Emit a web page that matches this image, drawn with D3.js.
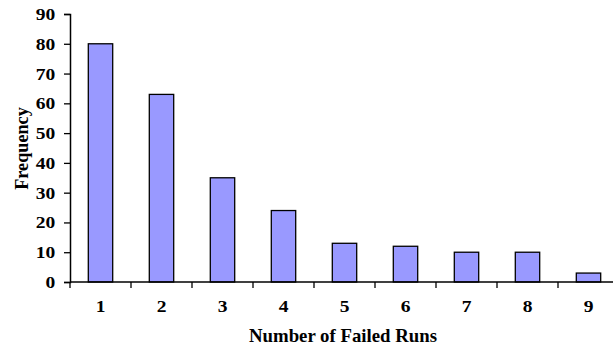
<!DOCTYPE html>
<html><head><meta charset="utf-8">
<script src="https://cdn.jsdelivr.net/npm/d3@7"></script>
<style>body{margin:0;background:#fff}svg{display:block}text{font-family:"Liberation Serif","Times New Roman",serif;font-weight:bold;fill:#000}</style>
</head><body>
<svg id="c" width="613" height="347"></svg>
<script>
const categories = ["1","2","3","4","5","6","7","8","9"];
const frequencies = [80, 63, 35, 24, 13, 12, 10, 10, 3];
const yTicks = [0,10,20,30,40,50,60,70,80,90];

(function(){
const svg = d3.select("#c");
const mL = 70, mR = 619, mT = 14, mB = 282;
const x = d3.scaleBand().domain(categories).range([mL, mR]).paddingInner(0.6).paddingOuter(0.3);
const y = d3.scaleLinear().domain([0, 90]).range([mB, mT]);

svg.selectAll("rect.bar").data(categories).enter().append("rect")
  .attr("class","bar")
  .attr("x", d => x(d))
  .attr("width", x.bandwidth())
  .attr("y", (d,i) => y(frequencies[i]))
  .attr("height", (d,i) => y(0) - y(frequencies[i]))
  .attr("fill", "#9999ff").attr("stroke", "#000").attr("stroke-width", 1.3);

const ya = svg.append("g").attr("transform", `translate(${mL},0)`)
  .call(d3.axisLeft(y).tickValues(yTicks).tickSize(6).tickPadding(6).tickFormat(d3.format("d")));
ya.select(".domain").attr("stroke","#000").attr("stroke-width",1.5);
ya.selectAll(".tick line").attr("stroke","#000").attr("stroke-width",1.3);
ya.selectAll("text").attr("transform","scale(1.22,1)").attr("dy","0.34em")
  .style("font-size","16px").style("font-family",'"Liberation Serif",serif').style("font-weight","bold");

const step = x.step();
svg.append("line").attr("x1", mL).attr("x2", mR).attr("y1", mB).attr("y2", mB)
  .attr("stroke","#000").attr("stroke-width",1.5);
const bounds = d3.range(categories.length + 1).map(i => mL + i * step);
svg.selectAll("line.xt").data(bounds).enter().append("line").attr("class","xt")
  .attr("x1", d => d).attr("x2", d => d).attr("y1", mB).attr("y2", mB + 6)
  .attr("stroke","#000").attr("stroke-width",1.3);
svg.selectAll("text.xl").data(categories).enter().append("text").attr("class","xl")
  .attr("transform", d => `translate(${x(d) + x.bandwidth()/2},312) scale(1.22,1)`)
  .attr("text-anchor","middle").style("font-size","16px").text(d => d);

svg.append("text").attr("x", 343).attr("y", 342).attr("text-anchor","middle")
  .style("font-size","18.8px").text("Number of Failed Runs");
svg.append("text").attr("transform", `translate(28,148.5) rotate(-90)`)
  .attr("text-anchor","middle").style("font-size","18.2px").text("Frequency");
})();
</script>
</body></html>
